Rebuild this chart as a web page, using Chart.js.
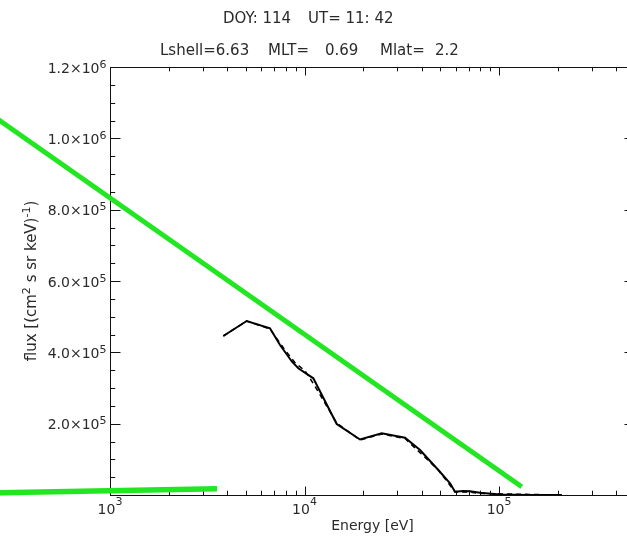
<!DOCTYPE html>
<html>
<head>
<meta charset="utf-8">
<script src="https://cdn.jsdelivr.net/npm/chart.js@4/dist/chart.umd.min.js"></script>
<style>
  html, body { margin: 0; padding: 0; background: #fff; overflow: hidden; }
  canvas { display: block; }
</style>
</head>
<body>
<canvas id="spec" width="660" height="536"></canvas>
<script>
// Energy channels [eV] and flux [(cm^2 s sr keV)^-1]
const energySolid = [3824, 5044, 6645, 7482, 8624, 9293, 11097, 14640, 19290, 24940, 32860, 39260, 48740, 56000, 59390, 65300, 70940, 79870, 101200, 144300, 210100];
const fluxSolid   = [445800, 487800, 467400, 420600, 373700, 355200, 327200, 199100, 155600, 173000, 160400, 126200, 70100, 32800, 9300, 11200, 10400, 6200, 1100, 300, 0];

const energyDashed = [3824, 5044, 6645, 7846, 8900, 10060, 11320, 14640, 19290, 24940, 32860, 48740, 59390, 70940, 79870, 210100];
const fluxDashed   = [445800, 487800, 465400, 410000, 372000, 348000, 305000, 201900, 154200, 171000, 158400, 70100, 8400, 8400, 4200, 0];

// the two green reference lines
const energyGreenUpper = [214.6, 130800];
const fluxGreenUpper   = [1088700, 23300];
const energyGreenLower = [214.6, 3549];
const fluxGreenLower   = [5440, 17400];

// axis labels
const xTickValues = [1e3, 1e4, 1e5];
const xTickBase   = ['10', '10', '10'];
const xTickExp    = ['3', '4', '5'];
const yTickValues = [2e5, 4e5, 6e5, 8e5, 1e6, 1.2e6];
const yTickBase   = ['2.0×10', '4.0×10', '6.0×10', '8.0×10', '1.0×10', '1.2×10'];
const yTickExp    = ['5', '5', '5', '5', '6', '6'];
const yMinorStep  = 5e4;

const headerLine1 = ['DOY: 114', 'UT= 11: 42'];
const headerLine2 = ['Lshell=6.63', 'MLT=', '0.69', 'Mlat=', '2.2'];

const GREEN = '#22e622';
const INK = '#111';
const TEXT = '#2a2a2a';
const FONT = "'DejaVu Sans', sans-serif";

const pts = (xs, ys) => xs.map((x, i) => ({ x, y: ys[i] }));

// IDL style box with inward ticks on all four sides
const idlAxes = {
  id: 'idlAxes',
  beforeDatasetsDraw(chart) {
    const { ctx, chartArea: a } = chart;
    const xs = chart.scales.x, ys = chart.scales.y;
    ctx.save();
    ctx.strokeStyle = INK;
    ctx.lineWidth = 1;
    ctx.strokeRect(a.left + 0.5, a.top + 0.5, a.right - a.left, a.bottom - a.top);

    ctx.beginPath();
    const xMajor = 8.5, xMinor = 4.3;
    for (let k = Math.floor(Math.log10(xs.min)); k <= Math.ceil(Math.log10(xs.max)); k++) {
      for (let m = 1; m <= 9; m++) {
        const v = m * Math.pow(10, k);
        if (v < xs.min || v > xs.max) continue;
        const px = Math.round(xs.getPixelForValue(v)) + 0.5;
        const len = m === 1 ? xMajor : xMinor;
        ctx.moveTo(px, a.bottom); ctx.lineTo(px, a.bottom - len);
        ctx.moveTo(px, a.top); ctx.lineTo(px, a.top + len);
      }
    }
    const yMajor = 10.5, yMinor = 5.2;
    for (let v = ys.min; v <= ys.max + 1; v += yMinorStep) {
      const py = Math.round(ys.getPixelForValue(v)) + 0.5;
      const major = Math.round(v / yMinorStep) % 4 === 0;
      const len = major ? yMajor : yMinor;
      ctx.moveTo(a.left, py); ctx.lineTo(a.left + len, py);
      ctx.moveTo(a.right, py); ctx.lineTo(a.right - len, py);
    }
    ctx.stroke();
    ctx.restore();
  },
  afterDraw(chart) {
    const { ctx, chartArea: a } = chart;
    const xs = chart.scales.x, ys = chart.scales.y;
    ctx.save();
    ctx.fillStyle = TEXT;
    ctx.textBaseline = 'alphabetic';

    const baseFont = '14px ' + FONT, expFont = '11px ' + FONT;

    // y tick labels
    yTickValues.forEach((v, i) => {
      const py = ys.getPixelForValue(v);
      const right = 106.5;
      ctx.font = expFont;
      const we = ctx.measureText(yTickExp[i]).width;
      ctx.textAlign = 'right';
      ctx.fillText(yTickExp[i], right, py + 0.5);
      ctx.font = baseFont;
      ctx.fillText(yTickBase[i], right - we, py + 5.5);
    });

    // x tick labels
    xTickValues.forEach((v, i) => {
      const px = xs.getPixelForValue(v);
      ctx.font = baseFont;
      const wb = ctx.measureText(xTickBase[i]).width;
      ctx.font = expFont;
      const we = ctx.measureText(xTickExp[i]).width;
      const start = px - (wb + we) / 2;
      ctx.textAlign = 'left';
      ctx.font = baseFont;
      ctx.fillText(xTickBase[i], start, a.bottom + 18.5);
      ctx.font = expFont;
      ctx.fillText(xTickExp[i], start + wb, a.bottom + 10);
    });

    // x title
    ctx.font = '14px ' + FONT;
    ctx.textAlign = 'center';
    ctx.fillText('Energy [eV]', (a.left + a.right) / 2, a.bottom + 35);

    // y title, rotated, with superscripts
    const parts = [['flux [(cm', false], ['2', true], [' s sr keV)', false], ['-1', true], [')', false]];
    ctx.save();
    ctx.translate(36, (a.top + a.bottom) / 2);
    ctx.rotate(-Math.PI / 2);
    ctx.textAlign = 'left';
    let total = 0;
    parts.forEach(([t, sup]) => { ctx.font = (sup ? '11px ' : '15px ') + FONT; total += ctx.measureText(t).width; });
    let x = -total / 2;
    parts.forEach(([t, sup]) => {
      ctx.font = (sup ? '11px ' : '15px ') + FONT;
      ctx.fillText(t, x, sup ? -6 : 0);
      x += ctx.measureText(t).width;
    });
    ctx.restore();

    // header
    ctx.font = '15px ' + FONT;
    ctx.textAlign = 'left';
    [223, 308].forEach((px, i) => ctx.fillText(headerLine1[i], px, 23));
    [160, 268, 325, 380, 435].forEach((px, i) => ctx.fillText(headerLine2[i], px, 55));
    ctx.restore();
  }
};

new Chart(document.getElementById('spec').getContext('2d'), {
  type: 'line',
  data: {
    datasets: [
      { data: pts(energySolid, fluxSolid), borderColor: '#000', borderWidth: 2, pointRadius: 0, tension: 0 },
      { data: pts(energyDashed, fluxDashed), borderColor: '#000', borderWidth: 1.5, borderDash: [5, 4], pointRadius: 0, tension: 0 },
      { data: pts(energyGreenUpper, fluxGreenUpper), borderColor: GREEN, borderWidth: 5, pointRadius: 0, clip: false },
      { data: pts(energyGreenLower, fluxGreenLower), borderColor: GREEN, borderWidth: 5.5, pointRadius: 0, clip: false },
    ]
  },
  options: {
    responsive: false,
    animation: false,
    events: [],
    layout: { padding: { left: 110, right: 25, top: 67, bottom: 41 } },
    plugins: { legend: { display: false }, tooltip: { enabled: false }, title: { display: false } },
    scales: {
      x: { type: 'logarithmic', min: 1000, max: 5e5, display: false, ticks: { autoSkip: false } },
      y: { type: 'linear', min: 0, max: 1.2e6, display: false, ticks: { autoSkip: false, stepSize: yMinorStep } }
    }
  },
  plugins: [idlAxes]
});
</script>
</body>
</html>
